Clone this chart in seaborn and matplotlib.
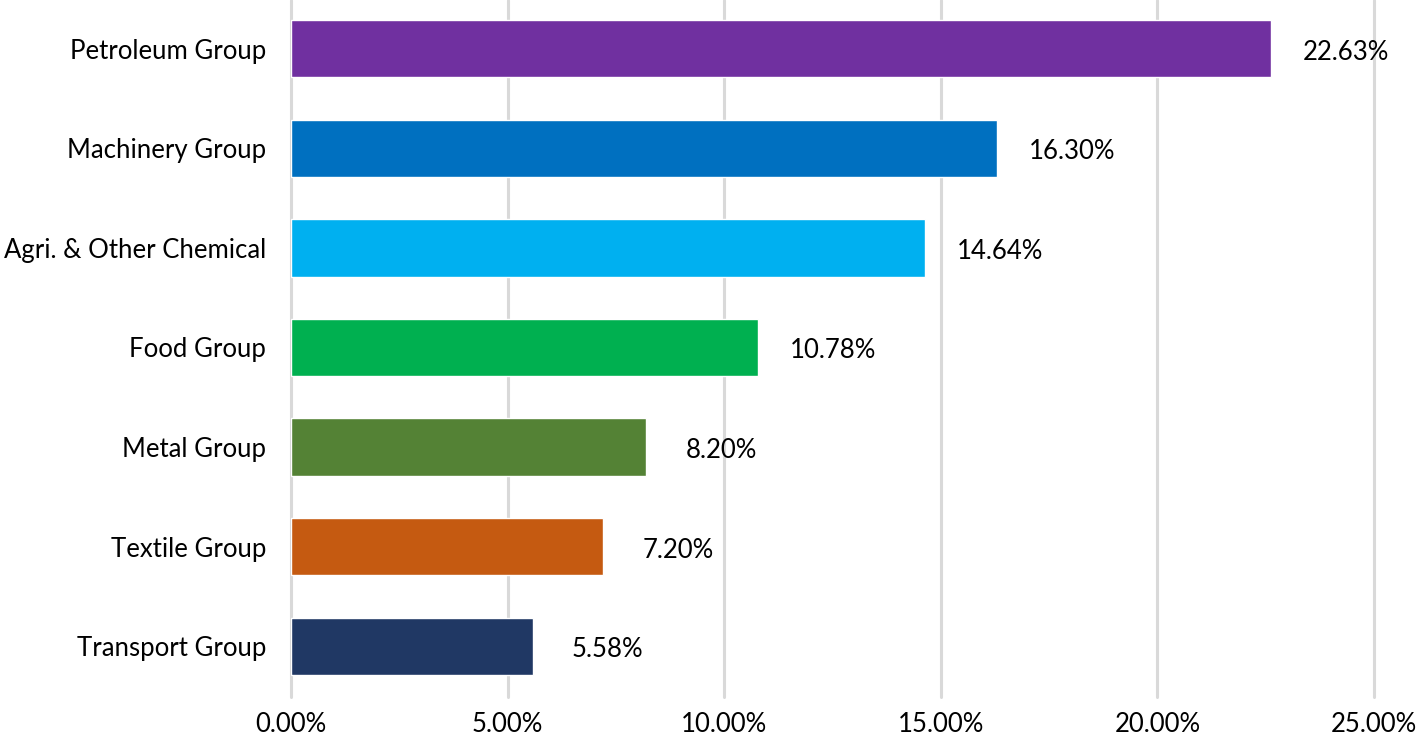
import matplotlib
matplotlib.use("Agg")
import matplotlib.pyplot as plt
import seaborn as sns
import pandas as pd

categories = ["Petroleum Group", "Machinery Group", "Agri. & Other Chemical", "Food Group",
              "Metal Group", "Textile Group", "Transport Group"]
shares = [22.63, 16.30, 14.64, 10.78, 8.20, 7.20, 5.58]
colors = ["#7030A0", "#0070C0", "#00B0F0", "#00B050", "#548235", "#C55A11", "#203864"]
xticks = [0, 5, 10, 15, 20, 25]

df = pd.DataFrame({"category": categories, "share": shares})

sns.set_style("white")
plt.rcParams["font.family"] = ["Lato", "DejaVu Sans"]

fig = plt.figure(figsize=(14.17, 7.5), dpi=100)
ax = fig.add_axes([0.2054, 0.0707, 0.7643, 0.9293])

sns.barplot(data=df, x="share", y="category", hue="category", palette=colors,
            saturation=1, legend=False, width=0.575, ax=ax, zorder=3)

ax.set_xlim(0, 25)
ax.set_ylim(6.51, -0.49)
ax.set_xticks(xticks)
ax.set_xticklabels([f"{t:.2f}%" for t in xticks])
ax.grid(axis="x", color="#D9D9D9", linewidth=2.2, zorder=0)
ax.grid(axis="y", visible=False)
for line in ax.get_xgridlines():
    line.set_clip_on(False)
for s in ax.spines.values():
    s.set_visible(False)
ax.tick_params(axis="both", length=0, labelsize=18.5, colors="black")
ax.tick_params(axis="x", pad=11)
ax.tick_params(axis="y", pad=18)
ax.set_xlabel("")
ax.set_ylabel("")

# value labels a bit to the right of each bar end
for i, v in enumerate(shares):
    ax.annotate(f"{v:.2f}%", xy=(v, i), xytext=(54, -2.5), textcoords="offset points",
                ha="center", va="center", fontsize=18.5, color="black")

fig.savefig("out.png", dpi=100)
